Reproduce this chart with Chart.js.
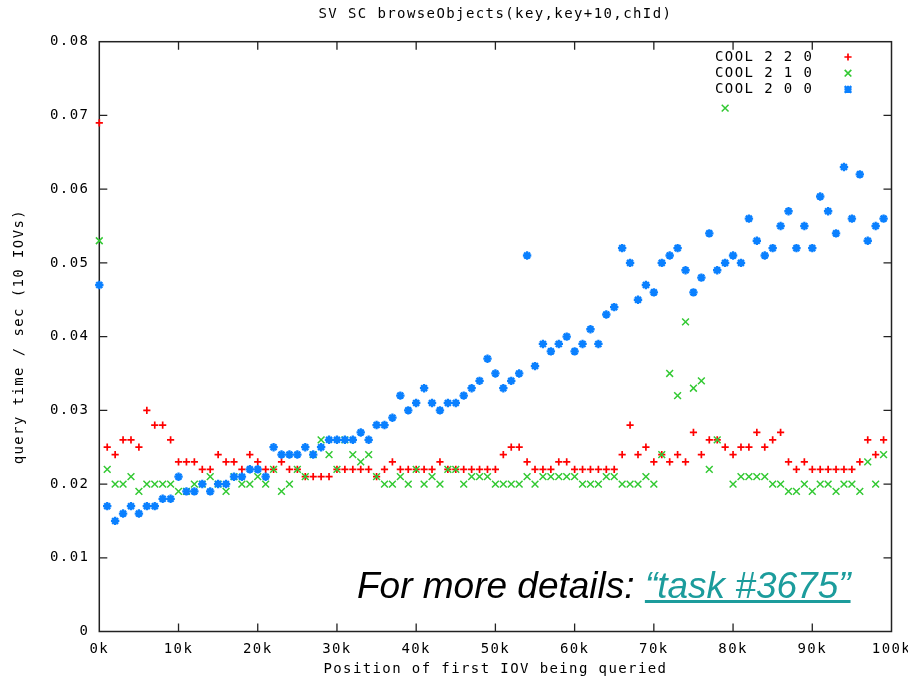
<!DOCTYPE html>
<html>
<head>
<meta charset="utf-8">
<script src="https://cdn.jsdelivr.net/npm/chart.js@4.4.1/dist/chart.umd.min.js"></script>
<style>
  html, body { margin: 0; padding: 0; background: #fff; }
  #wrap { position: relative; width: 908px; height: 678px; }
  #note {
    position: absolute; left: 357px; top: 567px;
    font: italic 37px/37px "Liberation Sans", Arial, sans-serif;
    color: #000; white-space: nowrap;
  }
  #note a { color: #1c9c9c; text-decoration: underline; }
</style>
</head>
<body>
<div id="wrap">
  <canvas id="c" width="908" height="678"></canvas>
  <div id="note">For more details: <a href="#">“task #3675”</a></div>
</div>
<script>
// position of first IOV, in thousands
const positionsK = [
  0, 1, 2, 3, 4, 5, 6, 7, 8, 9, 10, 11, 12, 13, 14, 15, 16, 17, 18, 19,
  20, 21, 22, 23, 24, 25, 26, 27, 28, 29, 30, 31, 32, 33, 34, 35, 36, 37, 38, 39,
  40, 41, 42, 43, 44, 45, 46, 47, 48, 49, 50, 51, 52, 53, 54, 55, 56, 57, 58, 59,
  60, 61, 62, 63, 64, 65, 66, 67, 68, 69, 70, 71, 72, 73, 74, 75, 76, 77, 78, 79,
  80, 81, 82, 83, 84, 85, 86, 87, 88, 89, 90, 91, 92, 93, 94, 95, 96, 97, 98, 99
];

const cool220 = [
  0.069, 0.025, 0.024, 0.026, 0.026, 0.025, 0.030, 0.028, 0.028, 0.026,
  0.023, 0.023, 0.023, 0.022, 0.022, 0.024, 0.023, 0.023, 0.022, 0.024,
  0.023, 0.022, 0.022, 0.023, 0.022, 0.022, 0.021, 0.021, 0.021, 0.021,
  0.022, 0.022, 0.022, 0.022, 0.022, 0.021, 0.022, 0.023, 0.022, 0.022,
  0.022, 0.022, 0.022, 0.023, 0.022, 0.022, 0.022, 0.022, 0.022, 0.022,
  0.022, 0.024, 0.025, 0.025, 0.023, 0.022, 0.022, 0.022, 0.023, 0.023,
  0.022, 0.022, 0.022, 0.022, 0.022, 0.022, 0.024, 0.028, 0.024, 0.025,
  0.023, 0.024, 0.023, 0.024, 0.023, 0.027, 0.024, 0.026, 0.026, 0.025,
  0.024, 0.025, 0.025, 0.027, 0.025, 0.026, 0.027, 0.023, 0.022, 0.023,
  0.022, 0.022, 0.022, 0.022, 0.022, 0.022, 0.023, 0.026, 0.024, 0.026
];

const cool210 = [
  0.053, 0.022, 0.020, 0.020, 0.021, 0.019, 0.020, 0.020, 0.020, 0.020,
  0.019, 0.019, 0.020, 0.020, 0.021, 0.020, 0.019, 0.021, 0.020, 0.020,
  0.021, 0.020, 0.022, 0.019, 0.020, 0.022, 0.021, 0.024, 0.026, 0.024,
  0.022, 0.026, 0.024, 0.023, 0.024, 0.021, 0.020, 0.020, 0.021, 0.020,
  0.022, 0.020, 0.021, 0.020, 0.022, 0.022, 0.020, 0.021, 0.021, 0.021,
  0.020, 0.020, 0.020, 0.020, 0.021, 0.020, 0.021, 0.021, 0.021, 0.021,
  0.021, 0.020, 0.020, 0.020, 0.021, 0.021, 0.020, 0.020, 0.020, 0.021,
  0.020, 0.024, 0.035, 0.032, 0.042, 0.033, 0.034, 0.022, 0.026, 0.071,
  0.020, 0.021, 0.021, 0.021, 0.021, 0.020, 0.020, 0.019, 0.019, 0.020,
  0.019, 0.020, 0.020, 0.019, 0.020, 0.020, 0.019, 0.023, 0.020, 0.024
];

const cool200 = [
  0.047, 0.017, 0.015, 0.016, 0.017, 0.016, 0.017, 0.017, 0.018, 0.018,
  0.021, 0.019, 0.019, 0.020, 0.019, 0.020, 0.020, 0.021, 0.021, 0.022,
  0.022, 0.021, 0.025, 0.024, 0.024, 0.024, 0.025, 0.024, 0.025, 0.026,
  0.026, 0.026, 0.026, 0.027, 0.026, 0.028, 0.028, 0.029, 0.032, 0.030,
  0.031, 0.033, 0.031, 0.030, 0.031, 0.031, 0.032, 0.033, 0.034, 0.037,
  0.035, 0.033, 0.034, 0.035, 0.051, 0.036, 0.039, 0.038, 0.039, 0.040,
  0.038, 0.039, 0.041, 0.039, 0.043, 0.044, 0.052, 0.050, 0.045, 0.047,
  0.046, 0.050, 0.051, 0.052, 0.049, 0.046, 0.048, 0.054, 0.049, 0.050,
  0.051, 0.050, 0.056, 0.053, 0.051, 0.052, 0.055, 0.057, 0.052, 0.055,
  0.052, 0.059, 0.057, 0.054, 0.063, 0.056, 0.062, 0.053, 0.055, 0.056
];

const seriesNames = ["COOL 2 2 0", "COOL 2 1 0", "COOL 2 0 0"];
const xTickValues = [0, 10, 20, 30, 40, 50, 60, 70, 80, 90, 100];
const xTickLabels = ["0k", "10k", "20k", "30k", "40k", "50k", "60k", "70k", "80k", "90k", "100k"];
const yTickValues = [0, 0.01, 0.02, 0.03, 0.04, 0.05, 0.06, 0.07, 0.08];
const yTickLabels = ["0", "0.01", "0.02", "0.03", "0.04", "0.05", "0.06", "0.07", "0.08"];

const MONO = '"DejaVu Sans Mono", "Liberation Mono", monospace';
const SPACING = "1.4px";
const RED = "#ff0000";
const GREEN = "#33c933";
const BLUE = "#0a80ff";

const pts = (vals) => positionsK.map((k, i) => ({ x: k, y: vals[i] }));

// small marker drawing for the key (same look as the chart markers)
function drawMark(ctx, style, x, y, color) {
  ctx.strokeStyle = color;
  ctx.beginPath();
  if (style === "cross" || style === "star") {
    ctx.moveTo(x - 3.6, y); ctx.lineTo(x + 3.6, y);
    ctx.moveTo(x, y - 3.6); ctx.lineTo(x, y + 3.6);
  }
  if (style === "crossRot" || style === "star") {
    ctx.moveTo(x - 3.3, y - 3.3); ctx.lineTo(x + 3.3, y + 3.3);
    ctx.moveTo(x - 3.3, y + 3.3); ctx.lineTo(x + 3.3, y - 3.3);
  }
  ctx.stroke();
}

const gnuFrame = {
  id: "gnuFrame",
  beforeLayout(chart) { chart.ctx.letterSpacing = SPACING; },
  beforeDraw(chart) { chart.ctx.letterSpacing = SPACING; },
  beforeDatasetsDraw(chart) {
    const { ctx, chartArea: a, scales: { x, y } } = chart;
    ctx.save();
    ctx.strokeStyle = "#222";
    ctx.lineWidth = 1.5;
    ctx.strokeRect(a.left, a.top, a.right - a.left, a.bottom - a.top);
    ctx.lineWidth = 1.3;
    ctx.beginPath();
    xTickValues.slice(1, -1).forEach((v) => {
      const px = x.getPixelForValue(v);
      ctx.moveTo(px, a.bottom); ctx.lineTo(px, a.bottom - 8);
      ctx.moveTo(px, a.top); ctx.lineTo(px, a.top + 8);
    });
    yTickValues.slice(1, -1).forEach((v) => {
      const py = y.getPixelForValue(v);
      ctx.moveTo(a.left, py); ctx.lineTo(a.left + 8, py);
      ctx.moveTo(a.right, py); ctx.lineTo(a.right - 8, py);
    });
    ctx.stroke();
    ctx.restore();
  },
  afterDraw(chart) {
    const { ctx } = chart;
    const styles = ["cross", "crossRot", "star"];
    const colors = [RED, GREEN, BLUE];
    ctx.save();
    ctx.font = "14px " + MONO;
    ctx.fillStyle = "#000";
    ctx.textAlign = "left";
    ctx.textBaseline = "middle";
    seriesNames.forEach((name, i) => {
      const ty = 57 + i * 16.2;
      ctx.fillText(name, 715, ty);
      ctx.lineWidth = i === 2 ? 2.2 : 1.7;
      drawMark(ctx, styles[i], 848, ty, colors[i]);
    });
    ctx.restore();
  }
};

new Chart(document.getElementById("c"), {
  type: "scatter",
  data: {
    datasets: [
      { label: seriesNames[0], data: pts(cool220), order: 3, pointStyle: "cross",
        pointRadius: 3.6, borderWidth: 1.7, borderColor: RED, backgroundColor: RED, clip: 10 },
      { label: seriesNames[1], data: pts(cool210), order: 2, pointStyle: "crossRot",
        pointRadius: 4.8, borderWidth: 1.5, borderColor: GREEN, backgroundColor: GREEN, clip: 10 },
      { label: seriesNames[2], data: pts(cool200), order: 1, pointStyle: "star",
        pointRadius: 4.2, borderWidth: 2.3, borderColor: BLUE, backgroundColor: BLUE, clip: 10 }
    ]
  },
  options: {
    responsive: false,
    animation: false,
    events: [],
    layout: { padding: { left: 0, right: 16.5, top: 0, bottom: 0 } },
    plugins: {
      legend: { display: false },
      tooltip: { enabled: false },
      title: {
        display: true,
        fullSize: false,
        text: "SV SC browseObjects(key,key+10,chId)",
        color: "#000",
        font: { family: MONO, size: 14, weight: "normal" },
        padding: { top: 5.6, bottom: 19.3 }
      }
    },
    scales: {
      x: {
        type: "linear",
        min: 0, max: 100,
        grid: { display: false },
        border: { display: false },
        afterBuildTicks: (s) => { s.ticks = xTickValues.map((v) => ({ value: v })); },
        afterFit: (s) => { s.height = 46.5; s.paddingLeft = 0; s.paddingRight = 0; },
        ticks: {
          color: "#000", padding: 1.5, maxRotation: 0, autoSkip: false,
          font: { family: MONO, size: 14 },
          callback: (v) => xTickLabels[xTickValues.indexOf(v)]
        },
        title: {
          display: true, text: "Position of first IOV being queried", color: "#000",
          font: { family: MONO, size: 14 }, padding: { top: 0, bottom: 0.5 }
        }
      },
      y: {
        min: 0, max: 0.08,
        grid: { display: false },
        border: { display: false },
        afterBuildTicks: (s) => { s.ticks = yTickValues.map((v) => ({ value: v })); },
        afterFit: (s) => { s.width = 99.3; s.paddingTop = 0; s.paddingBottom = 0; },
        ticks: {
          color: "#000", padding: 2, autoSkip: false,
          font: { family: MONO, size: 14 },
          callback: (v) => yTickLabels[yTickValues.indexOf(v)]
        },
        title: {
          display: true, text: "query time / sec (10 IOVs)", color: "#000",
          font: { family: MONO, size: 14 }, padding: { top: 11, bottom: 0 }
        }
      }
    }
  },
  plugins: [gnuFrame]
});
</script>
</body>
</html>
